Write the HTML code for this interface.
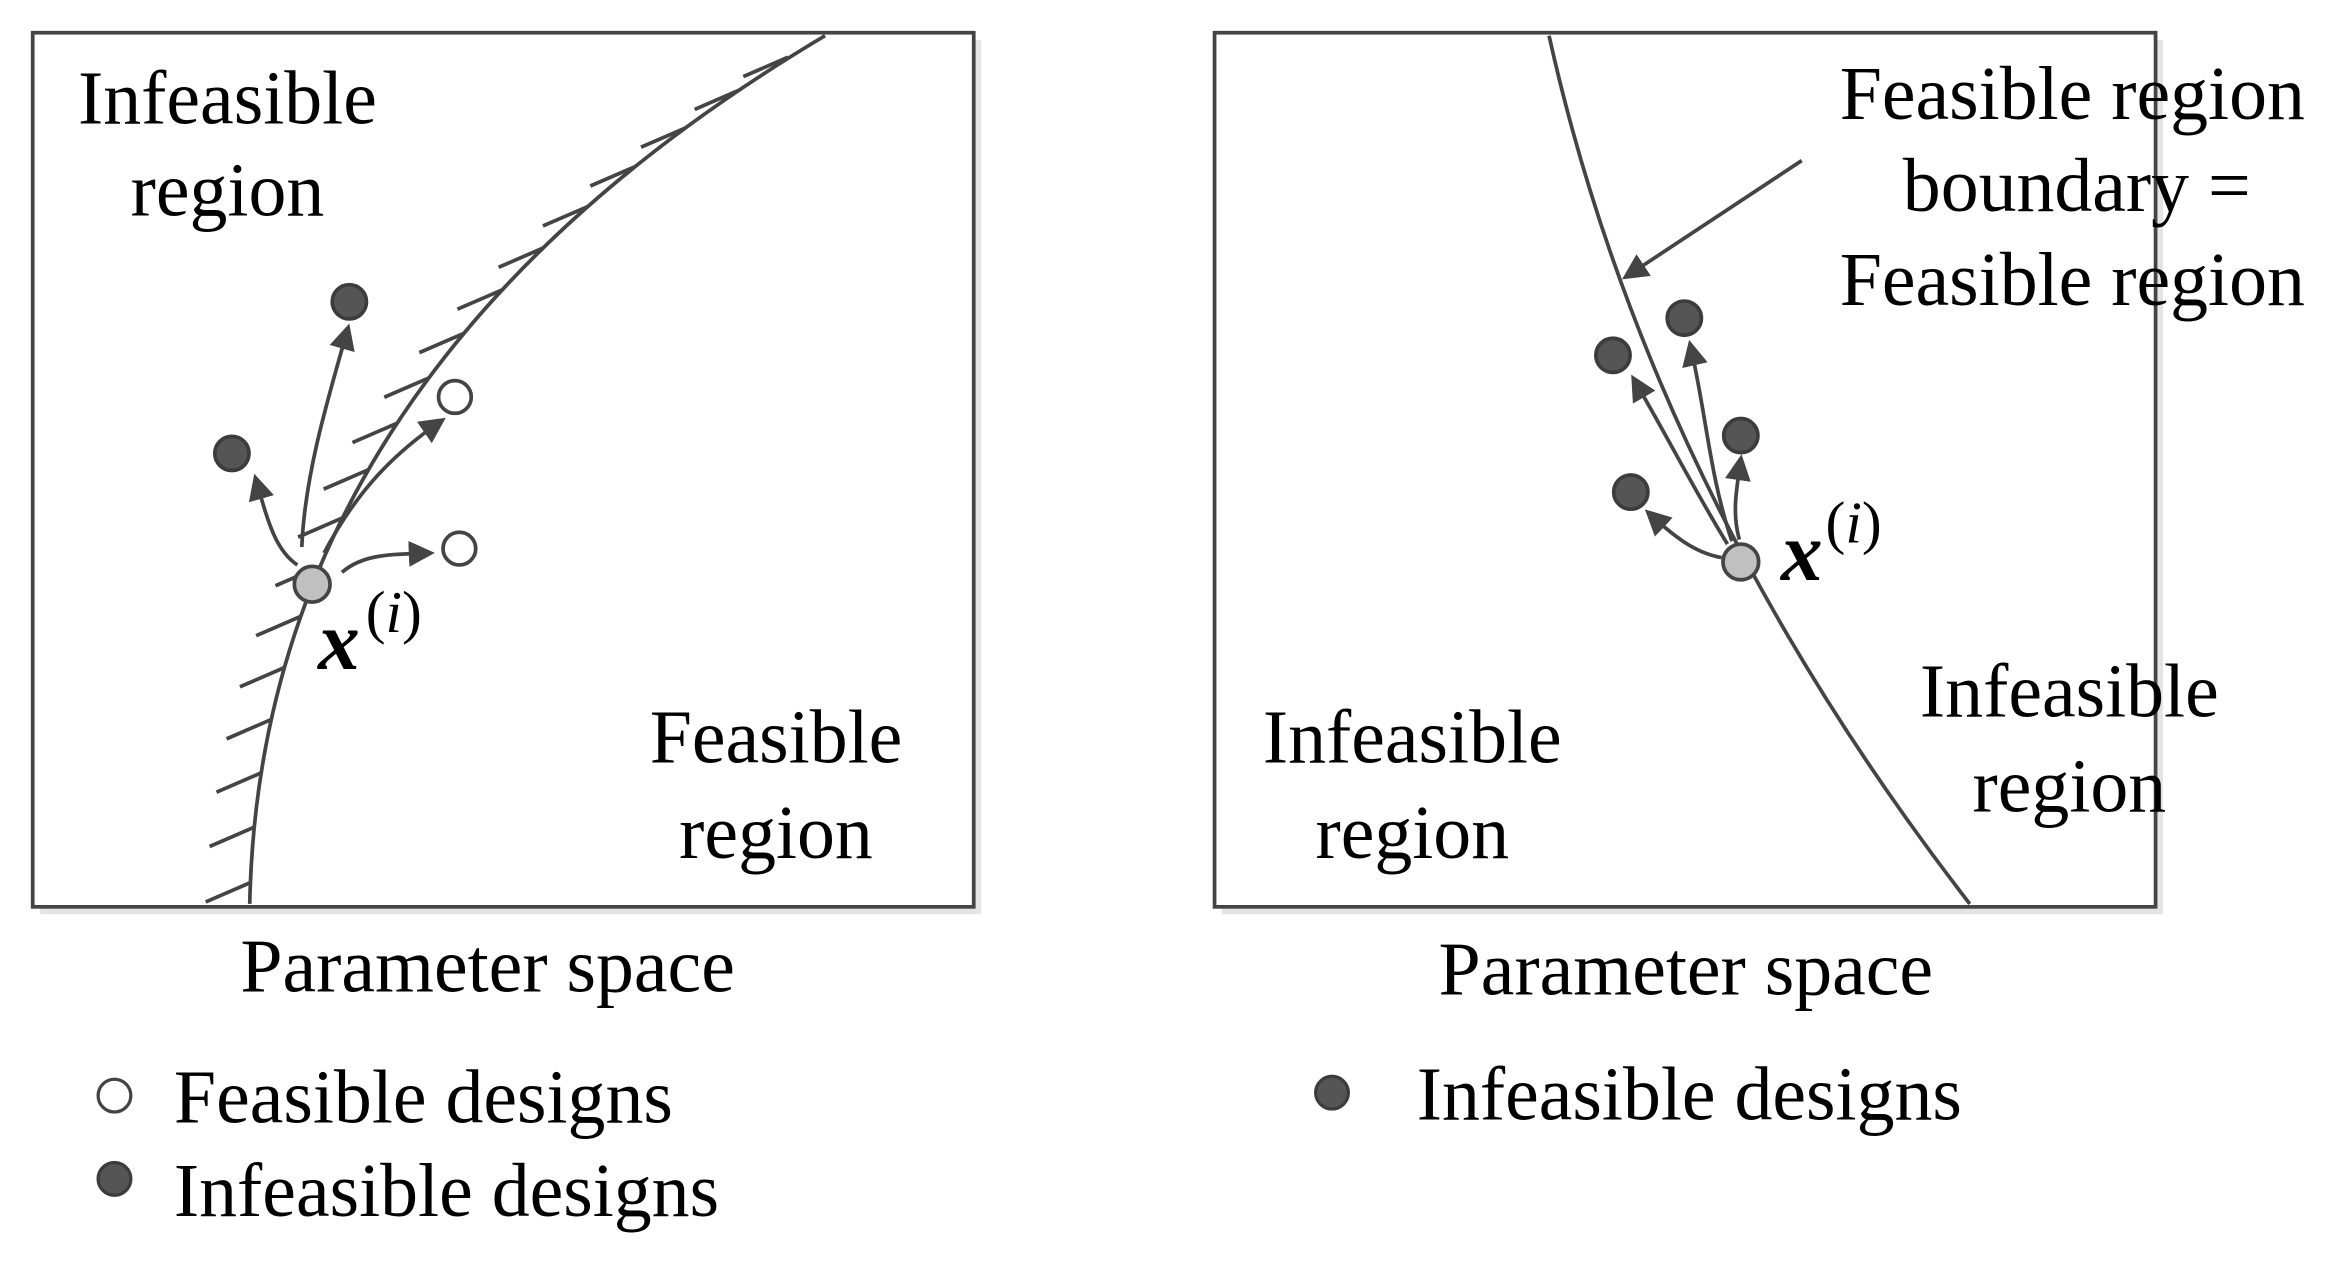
<!DOCTYPE html>
<html><head><meta charset="utf-8"><style>
html,body{margin:0;padding:0;background:#fff;}
svg{display:block;}
text{font-family:"Liberation Serif",serif;fill:#000;}
</style></head><body>
<svg width="2331" height="1269" viewBox="0 0 1568 853.6" xmlns="http://www.w3.org/2000/svg">
<defs>
<marker id="ah" viewBox="0 0 10 10" refX="8" refY="5" markerWidth="7" markerHeight="7" orient="auto" markerUnits="strokeWidth">
<path d="M0,0 L10,5 L0,10 z" fill="#444"/></marker>
</defs>
<rect x="27" y="27" width="633" height="588" fill="#e4e4e4"/>
<rect x="822" y="27" width="633" height="588" fill="#e4e4e4"/>
<rect x="22" y="22" width="633" height="588" fill="#fff" stroke="#444" stroke-width="2.5"/>
<rect x="817" y="22" width="633" height="588" fill="#fff" stroke="#444" stroke-width="2.5"/>

<path d="M168,608 Q175,250 555,24" fill="none" stroke="#444" stroke-width="2.5"/>
<g stroke="#444" stroke-width="2.5">
<line x1="168.4" y1="593.7" x2="138.4" y2="606.7"/>
<line x1="171.0" y1="556.4" x2="141.0" y2="569.4"/>
<line x1="175.6" y1="519.9" x2="145.6" y2="532.9"/>
<line x1="182.4" y1="484.0" x2="152.4" y2="497.0"/>
<line x1="191.4" y1="449.0" x2="161.4" y2="462.0"/>
<line x1="202.3" y1="414.6" x2="172.3" y2="427.6"/>
<line x1="215.3" y1="381.0" x2="185.3" y2="394.0"/>
<line x1="230.5" y1="348.3" x2="200.5" y2="361.3"/>
<line x1="247.7" y1="316.0" x2="217.7" y2="329.0"/>
<line x1="267.1" y1="284.7" x2="237.1" y2="297.7"/>
<line x1="288.5" y1="254.2" x2="258.5" y2="267.2"/>
<line x1="312.1" y1="224.2" x2="282.1" y2="237.2"/>
<line x1="337.7" y1="195.0" x2="307.7" y2="208.0"/>
<line x1="365.4" y1="166.8" x2="335.4" y2="179.8"/>
<line x1="395.2" y1="139.0" x2="365.2" y2="152.0"/>
<line x1="427.1" y1="112.1" x2="397.1" y2="125.1"/>
<line x1="461.2" y1="86.0" x2="431.2" y2="99.0"/>
<line x1="497.3" y1="60.6" x2="467.3" y2="73.6"/>
<line x1="530" y1="38.5" x2="500" y2="51.5"/>
</g>

<g fill="none" stroke="#444" stroke-width="2.5" marker-end="url(#ah)">
<path d="M203,368 C205,320 220,270 234,221"/>
<path d="M200,380 C185,370 180,350 172,322"/>
<path d="M218,372 C240,330 265,305 297,283"/>
<path d="M230,385 C245,372 265,373 289,372"/>
</g>
<circle cx="235" cy="203" r="11.5" fill="#555" stroke="#3c3c3c" stroke-width="2.5"/>
<circle cx="156" cy="305" r="11.5" fill="#555" stroke="#3c3c3c" stroke-width="2.5"/>
<circle cx="306" cy="267" r="11" fill="#fff" stroke="#444" stroke-width="2.5"/>
<circle cx="309" cy="369" r="11" fill="#fff" stroke="#444" stroke-width="2.5"/>
<circle cx="210" cy="393" r="12" fill="#c0c0c0" stroke="#444" stroke-width="2.5"/>
<text x="214" y="450" font-size="56" font-weight="bold" font-style="italic">x</text>
<text x="246" y="425" font-size="40">(<tspan font-style="italic">i</tspan>)</text>

<text font-size="51" x="153" y="83" text-anchor="middle">Infeasible</text>
<text font-size="51" x="153" y="145" text-anchor="middle">region</text>
<text font-size="51" x="522" y="513" text-anchor="middle">Feasible</text>
<text font-size="51" x="522" y="577" text-anchor="middle">region</text>
<text font-size="51" x="328" y="667" text-anchor="middle">Parameter space</text>
<circle cx="77" cy="737" r="11" fill="#fff" stroke="#444" stroke-width="2.2"/>
<text font-size="51" x="117" y="755">Feasible designs</text>
<circle cx="77" cy="793" r="11" fill="#555" stroke="#3c3c3c" stroke-width="2.2"/>
<text font-size="51" x="117" y="818">Infeasible designs</text>

<path d="M1042,24 Q1110,330 1325,608" fill="none" stroke="#444" stroke-width="2.5"/>
<line x1="1212" y1="108" x2="1094" y2="186" stroke="#444" stroke-width="2.5" marker-end="url(#ah)"/>
<g fill="none" stroke="#444" stroke-width="2.5" marker-end="url(#ah)">
<path d="M1162,366 C1140,330 1125,300 1099,255"/>
<path d="M1165,364 C1150,320 1148,280 1137,232"/>
<path d="M1170,363 C1165,345 1168,330 1171,309"/>
<path d="M1158,375 C1140,372 1125,360 1109,345"/>
</g>
<circle cx="1133" cy="214" r="11.5" fill="#555" stroke="#3c3c3c" stroke-width="2.5"/>
<circle cx="1085" cy="239" r="11.5" fill="#555" stroke="#3c3c3c" stroke-width="2.5"/>
<circle cx="1171" cy="293" r="11.5" fill="#555" stroke="#3c3c3c" stroke-width="2.5"/>
<circle cx="1097" cy="331" r="11.5" fill="#555" stroke="#3c3c3c" stroke-width="2.5"/>
<circle cx="1171" cy="378" r="12" fill="#c0c0c0" stroke="#444" stroke-width="2.5"/>
<text x="1198" y="390" font-size="56" font-weight="bold" font-style="italic">x</text>
<text x="1228" y="365" font-size="40">(<tspan font-style="italic">i</tspan>)</text>

<text font-size="51" x="1394" y="80" text-anchor="middle">Feasible region</text>
<text font-size="51" x="1397" y="142" text-anchor="middle">boundary =</text>
<text font-size="51" x="1394" y="205" text-anchor="middle">Feasible region</text>
<text font-size="51" x="950" y="513" text-anchor="middle">Infeasible</text>
<text font-size="51" x="950" y="577" text-anchor="middle">region</text>
<text font-size="51" x="1392" y="482" text-anchor="middle">Infeasible</text>
<text font-size="51" x="1392" y="546" text-anchor="middle">region</text>
<text font-size="51" x="1134" y="669" text-anchor="middle">Parameter space</text>
<circle cx="896" cy="735" r="11" fill="#555" stroke="#3c3c3c" stroke-width="2.2"/>
<text font-size="51" x="953" y="753">Infeasible designs</text>
</svg>
</body></html>
